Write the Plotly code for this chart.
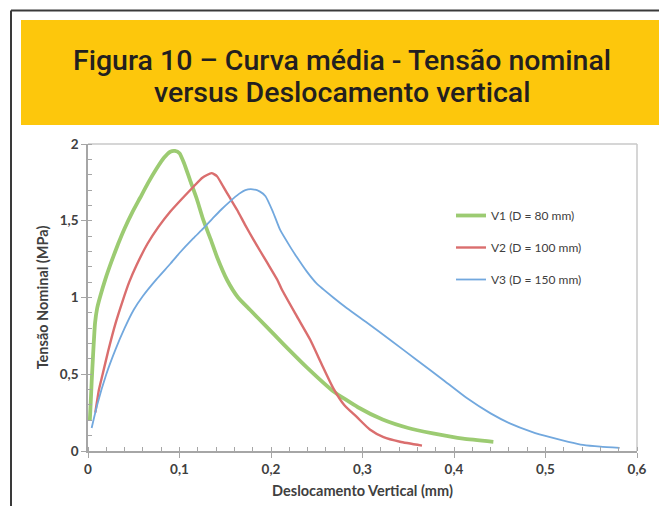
import plotly.graph_objects as go

# Curve V1 (D = 80 mm)
v1_x = [0.002, 0.003, 0.004, 0.0055, 0.0077, 0.010, 0.013, 0.019, 0.026, 0.033, 0.040, 0.048,
        0.057, 0.066, 0.075, 0.083, 0.090, 0.095, 0.100, 0.105, 0.1115, 0.119, 0.126, 0.134,
        0.141, 0.152, 0.164, 0.177, 0.195, 0.213, 0.240, 0.268, 0.295, 0.322, 0.350, 0.377,
        0.410, 0.443]
v1_y = [0.20, 0.32, 0.45, 0.62, 0.834, 0.93, 1.00, 1.12, 1.24, 1.35, 1.45, 1.55,
        1.65, 1.75, 1.84, 1.91, 1.95, 1.955, 1.94, 1.875, 1.765, 1.64, 1.505, 1.38,
        1.264, 1.114, 1.00, 0.92, 0.81, 0.70, 0.54, 0.39, 0.285, 0.205, 0.15, 0.115,
        0.08, 0.06]

# Curve V2 (D = 100 mm)
v2_x = [0.008, 0.012, 0.016, 0.022, 0.030, 0.038, 0.045, 0.053, 0.065, 0.077, 0.090, 0.103,
        0.115, 0.125, 0.135, 0.141, 0.148, 0.155, 0.163, 0.172, 0.181, 0.196, 0.207,
        0.212, 0.228, 0.243, 0.255, 0.268, 0.280, 0.294, 0.308, 0.323, 0.341, 0.365]
v2_y = [0.25, 0.40, 0.50, 0.65, 0.83, 0.98, 1.10, 1.21, 1.35, 1.46, 1.56, 1.645,
        1.72, 1.78, 1.81, 1.79, 1.72, 1.65, 1.57, 1.47, 1.375, 1.225, 1.114,
        1.05, 0.88, 0.723, 0.57, 0.41, 0.30, 0.22, 0.14, 0.09, 0.06, 0.035]

# Curve V3 (D = 150 mm)
v3_x = [0.004, 0.010, 0.020, 0.030, 0.040, 0.050, 0.060, 0.075, 0.090, 0.100, 0.115, 0.126,
        0.137, 0.146, 0.155, 0.165, 0.172, 0.180, 0.188, 0.194, 0.202, 0.210, 0.221, 0.228,
        0.239, 0.250, 0.268, 0.283, 0.305, 0.330, 0.360, 0.390, 0.414, 0.440, 0.461, 0.485,
        0.505, 0.525, 0.541, 0.560, 0.581]
v3_y = [0.15, 0.30, 0.50, 0.66, 0.80, 0.92, 1.01, 1.12, 1.22, 1.29, 1.385, 1.45,
        1.52, 1.575, 1.625, 1.675, 1.70, 1.705, 1.69, 1.66, 1.56, 1.44, 1.33, 1.265,
        1.17, 1.09, 1.00, 0.93, 0.835, 0.725, 0.59, 0.455, 0.345, 0.245, 0.18, 0.125,
        0.09, 0.06, 0.04, 0.028, 0.02]

series_names = ["V1 (D = 80 mm)", "V2 (D = 100 mm)", "V3 (D = 150 mm)"]
series_colors = ["#9CCB72", "#DA6E6E", "#72A8DE"]
series_widths = [3.8, 2.4, 1.8]

x_ticks = [0, 0.1, 0.2, 0.3, 0.4, 0.5, 0.6]
y_ticks = [0, 0.5, 1, 1.5, 2]

W, H = 659, 506
L, R, T, B = 88, 22, 144, 55
PW, PH = W - L - R, H - T - B


def px(xp):
    return (xp - L) / PW


def py(yp):
    return (H - B - yp) / PH


fig = go.Figure()
for i, (xs, ys) in enumerate([(v1_x, v1_y), (v2_x, v2_y), (v3_x, v3_y)]):
    fig.add_trace(go.Scatter(
        x=xs, y=ys, mode="lines", name=series_names[i], legendgroup=f"g{i}",
        line=dict(color=series_colors[i], width=series_widths[i], shape="spline", smoothing=0.5),
    ))

tick_font = dict(family="Lato", size=13.5, color="#404040", weight="bold")
title_axis_font = dict(family="Lato", size=14.5, color="#404040", weight="bold")

fig.update_layout(
    width=W, height=H,
    margin=dict(l=L, r=R, t=T, b=B, pad=0),
    paper_bgcolor="white", plot_bgcolor="white",
    separators=",.",
    showlegend=True,
    legend=dict(
        x=px(451), y=py(201), xanchor="left", yanchor="top",
        font=dict(family="Lato", size=12, color="#404040"),
        bgcolor="rgba(0,0,0,0)", tracegroupgap=13, itemwidth=30,
    ),
    xaxis=dict(
        range=[0, 0.6], tickvals=x_ticks, ticktext=[f"{v:g}".replace(".", ",") for v in x_ticks],
        showgrid=False, zeroline=False, showline=True, linecolor="#A6A6A6", linewidth=1.5,
        ticks="outside", ticklen=5, tickcolor="#A6A6A6", tickwidth=1.2,
        minor=dict(dtick=0.02, ticks="inside", ticklen=4, tickcolor="#A6A6A6", tickwidth=1),
        tickfont=tick_font, automargin=False,
        title=dict(text="Deslocamento Vertical (mm)", font=title_axis_font, standoff=10),
    ),
    yaxis=dict(
        range=[0, 2], tickvals=y_ticks, ticktext=[f"{v:g}".replace(".", ",") for v in y_ticks],
        showgrid=False, zeroline=False, showline=True, linecolor="#A6A6A6", linewidth=1.5,
        ticks="outside", ticklen=5, tickcolor="#A6A6A6", tickwidth=1.2,
        minor=dict(dtick=0.1, ticks="inside", ticklen=4, tickcolor="#A6A6A6", tickwidth=1),
        tickfont=tick_font, automargin=False,
        title=dict(text="Tensão Nominal (MPa)", font=title_axis_font, standoff=8),
    ),
)

shapes = [
    # outer frame (top and left edges)
    dict(type="line", xref="paper", yref="paper", x0=px(11), x1=px(700), y0=py(10.5), y1=py(10.5),
         line=dict(color="#3A3A3A", width=2)),
    dict(type="line", xref="paper", yref="paper", x0=px(11), x1=px(11), y0=py(10.5), y1=py(560),
         line=dict(color="#3A3A3A", width=2)),
    # yellow header band
    dict(type="rect", xref="paper", yref="paper", x0=px(21), x1=px(700), y0=py(20), y1=py(125),
         fillcolor="#FDC70C", line=dict(width=0)),
    # plot area outline (top and right)
    dict(type="line", xref="paper", yref="paper", x0=0, x1=1, y0=1, y1=1,
         line=dict(color="#C8C8C8", width=1.5), layer="below"),
    dict(type="line", xref="paper", yref="paper", x0=1, x1=1, y0=0, y1=1,
         line=dict(color="#C8C8C8", width=1.5), layer="below"),
]
fig.update_layout(shapes=shapes)

title_font = dict(family="Roboto", size=28.5, color="#231F20", weight=500)
fig.add_annotation(text="Figura 10 – Curva média - Tensão nominal", xref="paper", yref="paper",
                   x=px(342), y=py(60), xanchor="center", yanchor="middle", showarrow=False,
                   font=title_font)
fig.add_annotation(text="versus Deslocamento vertical", xref="paper", yref="paper",
                   x=px(342), y=py(93), xanchor="center", yanchor="middle", showarrow=False,
                   font=title_font)

fig.write_html("out.html")
